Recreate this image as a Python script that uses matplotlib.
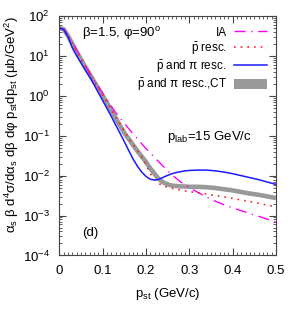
import matplotlib
matplotlib.use("Agg")
import matplotlib.pyplot as plt
from matplotlib.patches import Patch
from matplotlib.ticker import MultipleLocator, LogLocator, NullFormatter
import numpy as np

plt.rcParams['font.family'] = ['Liberation Sans', 'DejaVu Sans']
plt.rcParams['mathtext.fontset'] = 'custom'
plt.rcParams['mathtext.rm'] = 'Liberation Sans'
plt.rcParams['mathtext.it'] = 'Liberation Sans:italic'
plt.rcParams['mathtext.default'] = 'regular'

# p_st (GeV/c)
p_st = [0.00, 0.01, 0.02, 0.03, 0.04, 0.05, 0.06, 0.07, 0.08, 0.09,
        0.10, 0.11, 0.12, 0.13, 0.14, 0.15, 0.16, 0.17, 0.18, 0.19,
        0.20, 0.21, 0.22, 0.23, 0.24, 0.25, 0.26, 0.27, 0.28, 0.29,
        0.30, 0.32, 0.34, 0.36, 0.38, 0.40, 0.42, 0.44, 0.46, 0.48, 0.50]

# IA (dash-dot magenta)
ia = [50.1, 46.8, 33.1, 21.4, 13.8, 8.91, 5.75, 3.63, 2.45, 1.70,
      1.17, 0.794, 0.550, 0.380, 0.275, 0.204, 0.151, 0.112, 8.51e-2, 6.31e-2,
      4.79e-2, 3.72e-2, 2.82e-2, 2.19e-2, 1.70e-2, 1.32e-2, 1.05e-2, 8.51e-3, 6.92e-3, 5.89e-3,
      5.01e-3, 3.80e-3, 2.88e-3, 2.29e-3, 1.86e-3, 1.55e-3, 1.32e-3, 1.12e-3, 9.55e-4, 8.13e-4, 6.92e-4]

# pbar rescattering (dotted red)
pbar_resc = [50.1, 46.8, 32.4, 20.4, 12.9, 8.32, 5.50, 3.63, 2.40, 1.58,
             1.05, 0.692, 0.457, 0.302, 0.200, 0.132, 8.71e-2, 6.03e-2, 4.27e-2, 2.95e-2,
             1.91e-2, 1.12e-2, 7.94e-3, 6.31e-3, 5.50e-3, 5.13e-3, 4.79e-3, 4.57e-3, 4.37e-3, 4.17e-3,
             3.98e-3, 3.72e-3, 3.47e-3, 3.16e-3, 2.95e-3, 2.69e-3, 2.45e-3, 2.24e-3, 2.04e-3, 1.82e-3, 1.66e-3]

# pbar and pi rescattering (solid blue)
pbar_pi_resc = [50.1, 45.7, 30.2, 15.8, 10.0, 6.61, 4.37, 2.95, 1.91, 1.20,
                0.759, 0.479, 0.302, 0.186, 0.115, 7.08e-2, 4.27e-2, 2.63e-2, 1.74e-2, 1.23e-2,
                9.55e-3, 8.13e-3, 7.76e-3, 8.13e-3, 9.12e-3, 1.02e-2, 1.12e-2, 1.20e-2, 1.26e-2, 1.32e-2,
                1.35e-2, 1.38e-2, 1.38e-2, 1.32e-2, 1.23e-2, 1.12e-2, 1.00e-2, 8.91e-3, 7.94e-3, 6.92e-3, 6.03e-3]

# pbar and pi rescattering with colour transparency (grey band)
pbar_pi_ct = [50.1, 46.8, 31.6, 20.0, 12.6, 8.13, 5.25, 3.47, 2.29, 1.51,
              1.00, 0.661, 0.427, 0.275, 0.178, 0.117, 8.32e-2, 5.89e-2, 4.17e-2, 3.02e-2,
              2.19e-2, 1.51e-2, 1.10e-2, 8.13e-3, 6.76e-3, 6.03e-3, 5.62e-3, 5.50e-3, 5.37e-3, 5.37e-3,
              5.25e-3, 5.25e-3, 5.13e-3, 4.90e-3, 4.57e-3, 4.27e-3, 3.89e-3, 3.55e-3, 3.31e-3, 3.02e-3, 2.75e-3]

png_width = 300
png_height = 315
png_dpi = 100

fig = plt.figure(figsize=(png_width / png_dpi, png_height / png_dpi), dpi=png_dpi)
ax = fig.add_axes([0.198, 0.189, 0.722, 0.760])

ax.plot(p_st, pbar_pi_ct, color='#999999', lw=3.3, solid_capstyle='butt')
l_ia, = ax.plot(p_st, ia, color='#ff00ff', lw=1.0, ls=(0, (8, 4, 1, 4)))
l_p, = ax.plot(p_st, pbar_resc, color='#ff2020', lw=1.2, ls=(0, (1, 3)))
l_pp, = ax.plot(p_st, pbar_pi_resc, color='#1a1aff', lw=1.1)

ax.set_yscale('log')
ax.set_xlim(0, 0.5)
ax.set_ylim(1e-4, 1e2)
ax.xaxis.set_major_locator(MultipleLocator(0.1))
ax.xaxis.set_minor_locator(MultipleLocator(0.01))
ax.yaxis.set_minor_locator(LogLocator(base=10, subs=np.arange(2, 10)))
ax.yaxis.set_minor_formatter(NullFormatter())
ax.set_xticks([0, 0.1, 0.2, 0.3, 0.4, 0.5])
ax.set_xticklabels(['0', '0.1', '0.2', '0.3', '0.4', '0.5'])
ax.tick_params(which='both', direction='in', top=True, right=True, labelsize=9.5,
               color='#444444')
ax.tick_params(which='major', length=5, pad=7)
ax.tick_params(which='minor', length=2.5)
for s in ax.spines.values():
    s.set_color('#444444')

ax.set_xlabel(r'p$_{\rm st}$ (GeV/c)', fontsize=9.5, labelpad=6)
ax.set_ylabel(r'α$_{\rm s}$ β d$^4$σ/dα$_{\rm s}$ dβ dφ p$_{\rm st}$dp$_{\rm st}$ (μb/GeV$^2$)',
              fontsize=9.5)
ax.yaxis.set_label_coords(-0.175, 0.545)

ax.text(0.104, 0.929, r'β=1.5, φ=90$^{\rm o}$', transform=ax.transAxes,
        fontsize=9.5, va='center', ha='left')
ax.text(0.497, 0.495, r'p$_{\rm lab}$=15 GeV/c', transform=ax.transAxes,
        fontsize=9.5, va='center', ha='left')
ax.text(0.104, 0.094, '(d)', transform=ax.transAxes, fontsize=9.5, va='center', ha='left')

ct_patch = Patch(facecolor='#999999', edgecolor='none')
ax.legend([l_ia, l_p, l_pp, ct_patch],
          ['IA', r'$\bar{\rm p}$ resc.', r'$\bar{\rm p}$ and π resc.', r'$\bar{\rm p}$ and π resc.,CT'],
          loc='upper right', bbox_to_anchor=(0.958, 0.956), frameon=False, markerfirst=False,
          fontsize=8.5, handlelength=2.8, handletextpad=0.6, labelspacing=0.15,
          borderpad=0, borderaxespad=0, handleheight=0.9)

plt.savefig("out.png", dpi=png_dpi)
